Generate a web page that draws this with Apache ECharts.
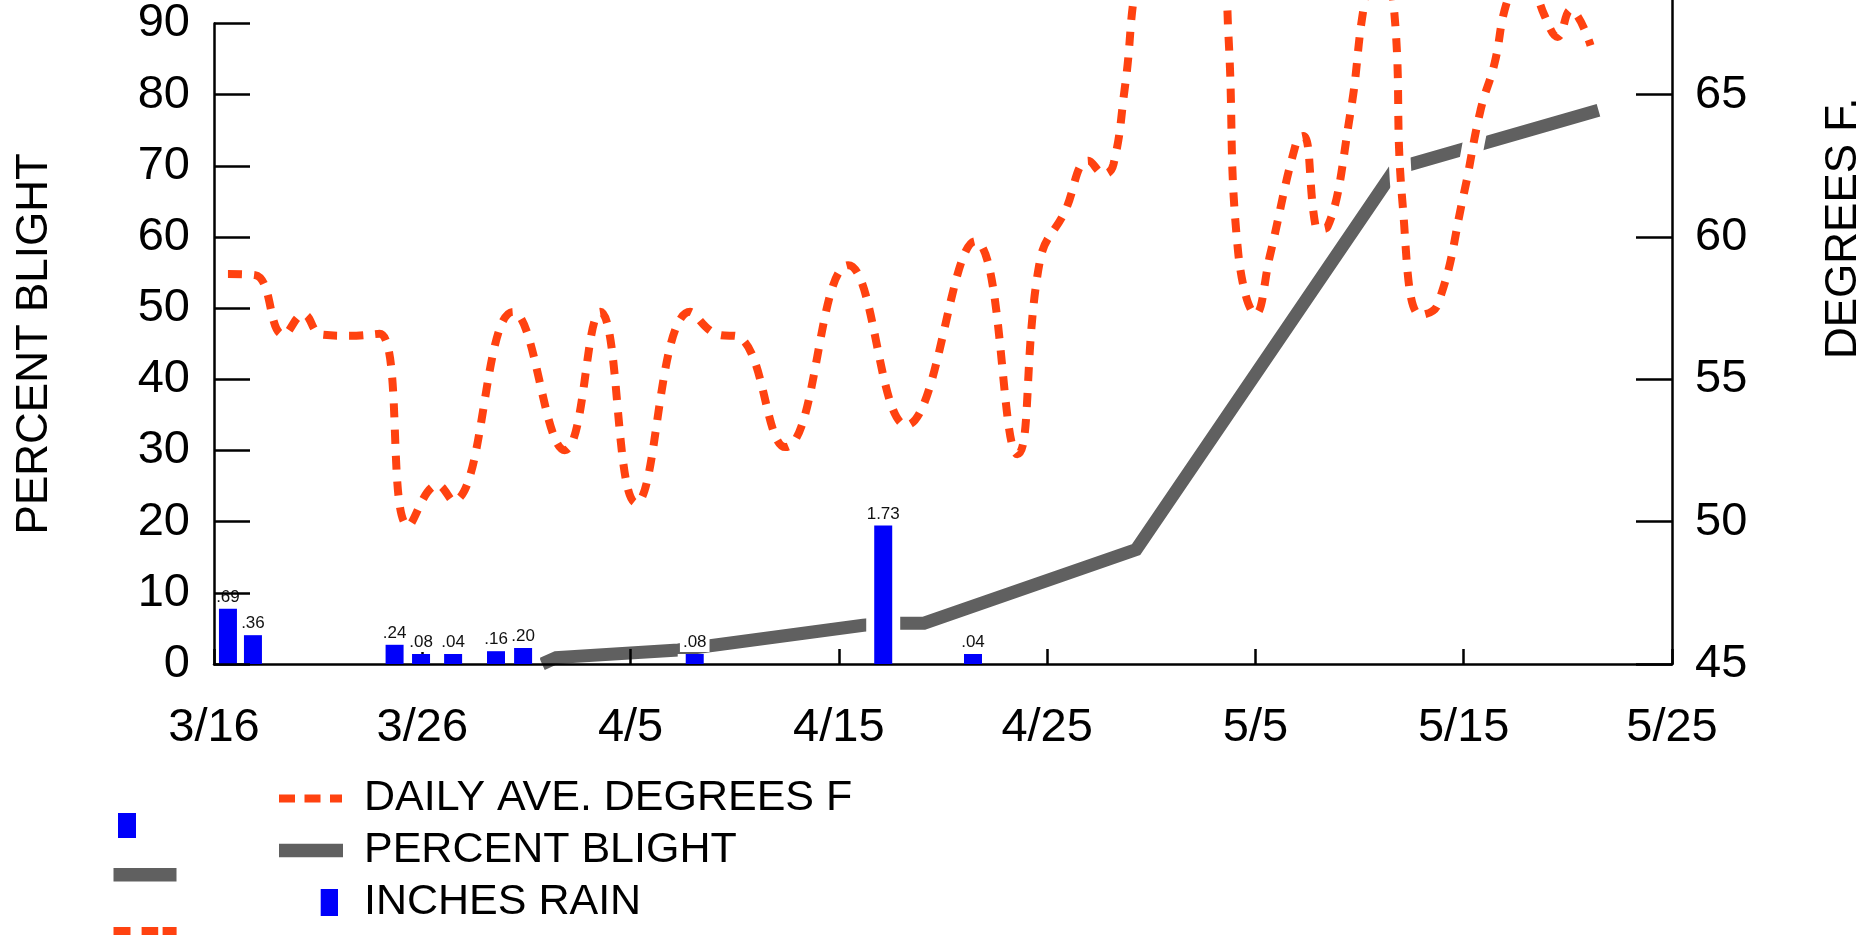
<!DOCTYPE html>
<html>
<head>
<meta charset="utf-8">
<script src="https://cdn.jsdelivr.net/npm/echarts@6/dist/echarts.min.js"></script>
<style>html,body{margin:0;padding:0;background:#fff;}#chart{width:1875px;height:938px;}</style>
</head>
<body>
<div id="chart"></div>
<script>
// ---- data (x = days after 3/16) ----
const xTickLabels = ['3/16', '3/26', '4/5', '4/15', '4/25', '5/5', '5/15', '5/25'];

const rainDays   = [0.67, 1.87, 8.67, 9.94, 11.48, 13.54, 14.84, 23.08, 32.13, 36.44];
const rainInches = [0.69, 0.36, 0.24, 0.08, 0.04, 0.16, 0.20, 0.08, 1.73, 0.04];

const blightDays    = [15.75, 16.43, 22.29, 31.17, 32.23, 34.09, 44.27, 56.72, 66.47];
const blightPercent = [0, 0.9, 1.96, 5.45, 5.73, 5.73, 16.07, 69.6, 77.8];

const tempDays = [0.67, 1.97, 3.34, 4.30, 5.16, 6.53, 7.95, 9.34, 10.74, 11.48,
  14.36, 16.84, 18.54, 20.27, 22.86, 24.21, 25.17, 27.43, 30.45, 33.24,
  36.55, 38.57, 39.67, 40.83, 41.98, 42.75, 43.18, 43.74, 44.48, 46.40,
  48.41, 48.70, 49.17, 50.02, 50.70, 52.00, 52.31, 52.88, 53.12, 53.45,
  54.56, 55.23, 55.91, 56.63, 57.06, 57.93, 58.74, 59.99, 60.81, 61.48,
  62.05, 62.90, 63.88, 64.51, 65.13, 66.09];
const tempDegrees = [58.70, 58.66, 56.57, 57.28, 56.57, 56.53, 56.60, 49.86, 51.29, 50.73,
  57.37, 52.51, 57.37, 50.66, 57.37, 56.57, 56.50, 52.62, 59.01, 53.39,
  59.85, 52.37, 59.22, 60.86, 62.68, 62.21, 62.54, 65.30, 69.60, 73.80,
  69.60, 67.15, 59.47, 57.30, 59.36, 63.42, 63.55, 60.41, 60.28, 60.34,
  64.36, 68.20, 70.30, 68.20, 61.21, 57.26, 57.61, 61.46, 64.46, 66.10,
  68.20, 69.60, 67.78, 67.03, 67.97, 66.73];

// ---- styling ----
const FONT = "'Liberation Sans', Arial, Helvetica, sans-serif";
const RED = '#ff4210';
const GRAY = '#606060';
const BLUE = '#0000fa';

const zip = (a, b) => a.map((v, i) => [v, b[i]]);
const rainData = zip(rainDays, rainInches);
const blightData = zip(blightDays, blightPercent);
const tempData = zip(tempDays, tempDegrees);

const chart = echarts.init(document.getElementById('chart'), null, {renderer: 'canvas'});

const axisLineStyle = {color: '#000', width: 2.5};

chart.setOption({
  animation: false,
  backgroundColor: '#fff',
  grid: [
    {left: 214, top: 20, width: 1458, height: 644},
    {left: 214, top: 0, width: 1458, height: 664}
  ],
  xAxis: [
    {
      type: 'value', gridIndex: 0, position: 'bottom', min: 0, max: 70, interval: 10, z: 3,
      axisLine: {show: true, onZero: false, lineStyle: axisLineStyle},
      axisTick: {show: true, inside: true, length: 15, lineStyle: {color: '#000', width: 2.5}},
      axisLabel: {
        show: true, margin: 41, fontSize: 47, fontFamily: FONT, color: '#000',
        formatter: v => xTickLabels[Math.round(v / 10)] || ''
      },
      splitLine: {show: false}
    },
    {type: 'value', gridIndex: 0, position: 'bottom', min: 0, max: 70, show: false},
    {type: 'value', gridIndex: 1, position: 'bottom', min: 0, max: 70, show: false}
  ],
  yAxis: [
    {
      type: 'value', gridIndex: 0, position: 'left', min: 0, max: 90, interval: 10, z: 10,
      name: 'PERCENT BLIGHT', nameLocation: 'middle', nameRotate: 90, nameGap: 157,
      nameTextStyle: {fontSize: 44, fontFamily: FONT, color: '#000'},
      axisLine: {show: true, onZero: false, lineStyle: axisLineStyle},
      axisTick: {show: true, inside: true, length: 36, lineStyle: {color: '#000', width: 2.5}},
      axisLabel: {margin: 24, fontSize: 47, fontFamily: FONT, color: '#000', padding: [13, 0, 0, 0]},
      splitLine: {show: false}
    },
    {
      type: 'value', gridIndex: 0, position: 'right', min: 45, max: 67.5, interval: 5, z: 10,
      name: 'DEGREES F.', nameLocation: 'middle', nameRotate: 90, nameGap: 150,
      nameTextStyle: {fontSize: 44, fontFamily: FONT, color: '#000', padding: [0, 0, 0, 231]},
      axisLine: {show: false, onZero: false},
      axisTick: {show: true, inside: true, length: 36, lineStyle: {color: '#000', width: 2.5},
                 customValues: [45, 50, 55, 60, 65]},
      axisLabel: {margin: 23, fontSize: 47, fontFamily: FONT, color: '#000', padding: [0, 0, 23, 0],
                  customValues: [45, 50, 55, 60, 65],
                  formatter: v => (v % 5 === 0 ? String(v) : '')},
      splitLine: {show: false}
    },
    {type: 'value', gridIndex: 0, position: 'left', min: 0, max: 8, show: false},
    {
      type: 'value', gridIndex: 1, position: 'right', min: 0, max: 1, z: 10,
      axisLine: {show: true, onZero: false, lineStyle: axisLineStyle},
      axisTick: {show: false}, axisLabel: {show: false}, splitLine: {show: false}
    }
  ],
  legend: {
    orient: 'vertical', left: 274, top: 772,
    itemWidth: 64, itemHeight: 27, itemGap: 9, selectedMode: false,
    itemStyle: {borderWidth: 0},
    textStyle: {fontSize: 43, fontFamily: FONT, color: '#000', lineHeight: 43, padding: [0, 0, 0, 16]},
    data: [
      {name: 'DAILY AVE. DEGREES F',
       icon: 'path://M0,0L0,0M64,27L64,27M0,9.5h16v8h-16zM25.5,9.5h16v8h-16zM51,9.5h12v8h-12z'},
      {name: 'PERCENT BLIGHT',
       icon: 'path://M0,0L0,0M64,27L64,27M0,6.8h64v13.4h-64z'},
      {name: 'INCHES RAIN',
       icon: 'path://M0,0L0,0M64,27L64,27M41.7,0h17.3v27h-17.3z'}
    ]
  },
  graphic: [
    {type: 'rect', silent: true, shape: {x: 118, y: 813, width: 18, height: 25}, style: {fill: BLUE}},
    {type: 'rect', silent: true, shape: {x: 113.5, y: 868, width: 63, height: 13.5}, style: {fill: GRAY}},
    {type: 'rect', silent: true, shape: {x: 113.5, y: 927, width: 17, height: 8}, style: {fill: RED}},
    {type: 'rect', silent: true, shape: {x: 141.6, y: 927, width: 16.6, height: 8}, style: {fill: RED}},
    {type: 'rect', silent: true, shape: {x: 162.6, y: 927, width: 14, height: 8}, style: {fill: RED}}
  ],
  series: [
    {
      name: 'PERCENT BLIGHT', type: 'line', xAxisIndex: 0, yAxisIndex: 0, z: 1,
      data: blightData, symbol: 'none', color: GRAY,
      lineStyle: {color: GRAY, width: 13, cap: 'butt', join: 'miter'}
    },
    {
      name: 'rainHalo', type: 'bar', xAxisIndex: 1, yAxisIndex: 2, z: 2, silent: true,
      data: rainData, barWidth: 34, barMinHeight: 10, itemStyle: {color: '#fff'}
    },
    {
      name: 'INCHES RAIN', type: 'bar', xAxisIndex: 0, yAxisIndex: 2, z: 4,
      data: rainData, barWidth: 18, barMinHeight: 10, color: BLUE, itemStyle: {color: BLUE},
      label: {
        show: true, position: 'top', distance: 2, fontSize: 17, fontFamily: FONT, color: '#111',
        backgroundColor: '#fff', padding: [1, 3],
        formatter: p => { const v = p.value[1]; const s = v.toFixed(2); return v < 1 ? s.slice(1) : s; }
      }
    },
    {
      name: 'tempHalo', type: 'line', xAxisIndex: 0, yAxisIndex: 1, z: 5, silent: true,
      data: tempData, smooth: 0.45, symbol: 'none', clip: false,
      lineStyle: {color: '#fff', width: 22}
    },
    {
      name: 'DAILY AVE. DEGREES F', type: 'line', xAxisIndex: 0, yAxisIndex: 1, z: 6,
      data: tempData, smooth: 0.45, symbol: 'none', clip: false, color: RED,
      lineStyle: {color: RED, width: 8, type: [14, 12], cap: 'butt'}
    }
  ]
});
</script>
</body>
</html>
